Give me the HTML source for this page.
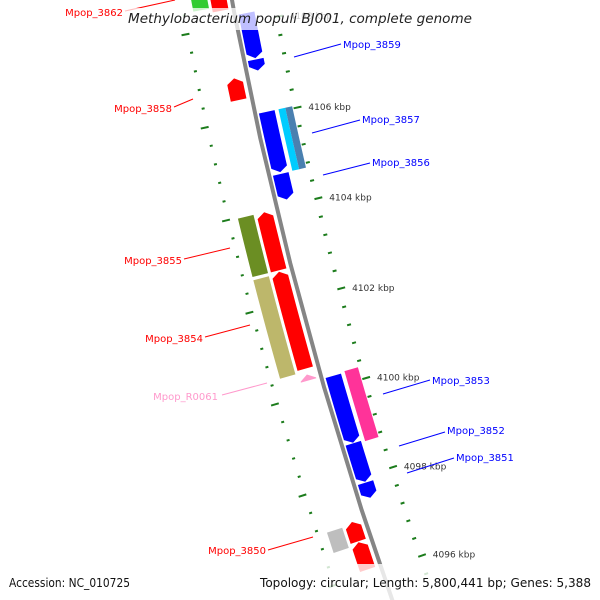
<!DOCTYPE html>
<html><head><meta charset="utf-8"><style>
html,body{margin:0;padding:0;background:#fff;width:600px;height:600px;overflow:hidden;}
svg{display:block;font-family:"DejaVu Sans","Liberation Sans",sans-serif;}
</style></head><body>
<svg id="map" width="600" height="600" viewBox="0 0 600 600" xmlns="http://www.w3.org/2000/svg" overflow="hidden">
<rect width="600" height="600" fill="#fff"/>
<g id="ticks"></g>
<path id="backbone" fill="none" stroke="#858585" stroke-width="4"/>
<g id="features"></g>
<g id="labels" font-size="10"></g>
<rect x="125" y="8" width="350" height="22" fill="#fff" opacity="0.75"/>
<text x="300" y="23" text-anchor="middle" font-style="italic" font-size="13" fill="#222" textLength="344" lengthAdjust="spacingAndGlyphs">Methylobacterium populi BJ001, complete genome</text>
<rect x="0" y="564" width="600" height="36" fill="#fff" opacity="0.8"/>
<text x="9" y="587" font-size="12.5" fill="#111" textLength="121" lengthAdjust="spacingAndGlyphs">Accession: NC_010725</text>
<text x="591" y="587" text-anchor="end" font-size="12.5" fill="#111" textLength="331" lengthAdjust="spacingAndGlyphs">Topology: circular; Length: 5,800,441 bp; Genes: 5,388</text>
</svg>
<script>
// ---- data (kbp) ----
const geneNames  = ["Mpop_3862","Mpop_3858","Mpop_3855","Mpop_3854","Mpop_R0061","Mpop_3850","Mpop_3849","Mpop_3859","Mpop_3859b","Mpop_3857","Mpop_3856","Mpop_3853","Mpop_3852","Mpop_3851"];
const geneStart  = [4108.35,4106.42,4102.71,4100.55,4100.29,4096.72,4096.09,4107.22,4106.95,4104.73,4104.13,4098.75,4097.88,4097.52];
const geneEnd    = [4110.5,4106.89,4103.98,4102.68,4100.42,4097.15,4096.70,4108.2,4107.19,4106.05,4104.69,4100.24,4098.74,4097.86];
const geneStrand = [1,1,1,1,1,1,1,-1,-1,-1,-1,-1,-1,-1];
const geneColor  = ["#ff0000","#ff0000","#ff0000","#ff0000","#ff99cc","#ff0000","#ff0000","#0000ff","#0000ff","#0000ff","#0000ff","#0000ff","#0000ff","#0000ff"];
const cogStart   = [4108.44,4102.71,4100.49,4096.65,4104.70,4104.70,4098.71];
const cogEnd     = [4110.5,4103.98,4102.64,4097.10,4106.05,4106.05,4100.27];
const cogStrand  = [1,1,1,1,-1,-1,-1];
const cogSub     = [0,0,0,0,1,2,0];
const cogColor   = ["#33cc33","#6b8e23","#bdb76b","#bebebe","#00ccff","#4a80b0","#ff3399"];
const tickStart = 4095.6, tickEnd = 4110.0, minorStep = 0.4, majorStep = 2;

// ---- geometry ----
const CX=4323, CY=-770, R=4163, P0=4106, PSI0=12.297, DEG_PER_KBP=0.647;
function pt(p,r){const psi=(PSI0-(p-P0)*DEG_PER_KBP)*Math.PI/180;return [CX-(R+r)*Math.cos(psi),CY+(R+r)*Math.sin(psi)];}
function arcPts(p1,p2,r){const a=[];const n=6;for(let i=0;i<=n;i++){a.push(pt(p1+(p2-p1)*i/n,r));}return a;}
const NS="http://www.w3.org/2000/svg";
function poly(points,fill,parent){const e=document.createElementNS(NS,"polygon");e.setAttribute("points",points.map(q=>q[0].toFixed(2)+","+q[1].toFixed(2)).join(" "));e.setAttribute("fill",fill);parent.appendChild(e);return e;}

// backbone
(function(){const a=arcPts(4094.6,4111,0);let d="";a.forEach((q,i)=>{d+=(i?"L":"M")+q[0].toFixed(2)+" "+q[1].toFixed(2)});document.getElementById("backbone").setAttribute("d",d);})();

// ticks
const tg=document.getElementById("ticks");
const nT=Math.round((tickEnd-tickStart)/minorStep);
for(let i=0;i<=nT;i++){
  const p=tickStart+i*minorStep;
  const major=Math.abs(p/majorStep-Math.round(p/majorStep))<1e-6;
  [[48,major?56:51],[-39,major?-47:-43]].forEach((rr,side)=>{
    const a=pt(p,rr[0]),b=pt(p,rr[1]);
    const l=document.createElementNS(NS,"line");
    l.setAttribute("x1",a[0]);l.setAttribute("y1",a[1]);l.setAttribute("x2",b[0]);l.setAttribute("y2",b[1]);
    l.setAttribute("stroke","#1c7c1c");l.setAttribute("stroke-width","2");
    
    
    tg.appendChild(l);
    if(major&&side===1){
      const t=document.createElementNS(NS,"text");
      t.setAttribute("x",(Math.max(a[0],b[0])+7).toFixed(1));t.setAttribute("y",(b[1]+3.5).toFixed(1));
      t.setAttribute("font-size","9");t.setAttribute("fill","#333");
      t.textContent=Math.round(p)+" kbp";
      
      
      tg.appendChild(t);
    }
  });
}

// features
const fg=document.getElementById("features");
const HEAD=0.11;
for(let i=0;i<geneStart.length;i++){
  const s=geneStrand[i], r1=s>0?5:-4, r2=s>0?21:-20, rm=(r1+r2)/2;
  let p1=geneStart[i],p2=geneEnd[i],pts;
  if(s>0){const h=Math.min(HEAD,(p2-p1)*0.9);pts=arcPts(p1,p2-h,r1).concat([pt(p2,rm)],arcPts(p1,p2-h,r2).reverse());}
  else{const h=Math.min(HEAD,(p2-p1)*0.9);pts=[pt(p1,rm)].concat(arcPts(p1+h,p2,r1),arcPts(p1+h,p2,r2).reverse());}
  const e=poly(pts,geneColor[i],fg);
  
  
}
for(let i=0;i<cogStart.length;i++){
  const s=cogStrand[i];let r1,r2;
  if(s>0){r1=24;r2=40;}else{r1=-24;r2=-38;if(cogSub[i]===1){r2=-31;}if(cogSub[i]===2){r1=-31;}}
  const pts=arcPts(cogStart[i],cogEnd[i],r1).concat(arcPts(cogStart[i],cogEnd[i],r2).reverse());
  const e=poly(pts,cogColor[i],fg);
  
  
}

// labels
const labels=[
 ["Mpop_3862","#ff0000",123,16,"end",[125,11,175,0]],
 ["Mpop_3859","#0000ff",343,48,"start",[294,57,341,44]],
 ["Mpop_3858","#ff0000",172,112,"end",[174,107,193,99]],
 ["Mpop_3857","#0000ff",362,123,"start",[312,133,360,120]],
 ["Mpop_3856","#0000ff",372,166,"start",[323,175,370,163]],
 ["Mpop_3855","#ff0000",182,264,"end",[184,259,230,248]],
 ["Mpop_3854","#ff0000",203,342,"end",[205,337,250,325]],
 ["Mpop_R0061","#ff99cc",218,400,"end",[222,395,267,383]],
 ["Mpop_3853","#0000ff",432,384,"start",[383,394,430,380]],
 ["Mpop_3852","#0000ff",447,434,"start",[399,446,445,432]],
 ["Mpop_3851","#0000ff",456,461,"start",[407,473,454,458]],
 ["Mpop_3850","#ff0000",266,554,"end",[268,550,313,537]]
];
const lg=document.getElementById("labels");
labels.forEach(L=>{
  const ln=document.createElementNS(NS,"line");
  ln.setAttribute("x1",L[5][0]);ln.setAttribute("y1",L[5][1]);ln.setAttribute("x2",L[5][2]);ln.setAttribute("y2",L[5][3]);
  ln.setAttribute("stroke",L[1]);ln.setAttribute("stroke-width","1");
  
  
  lg.appendChild(ln);
  const t=document.createElementNS(NS,"text");
  t.setAttribute("x",L[2]);t.setAttribute("y",L[3]);t.setAttribute("fill",L[1]);t.setAttribute("text-anchor",L[4]);
  t.textContent=L[0];
  
  
  lg.appendChild(t);
});
</script>
</body></html>
